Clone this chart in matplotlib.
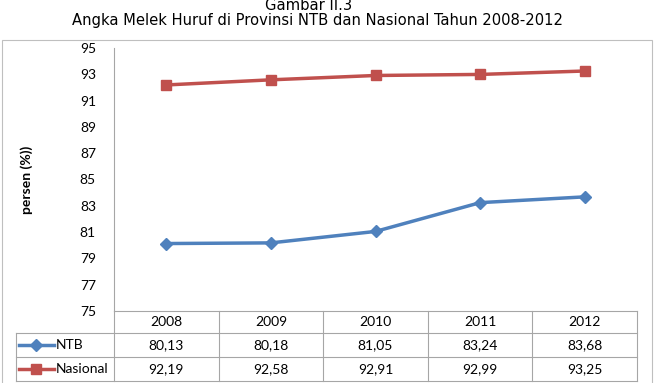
import matplotlib
matplotlib.use("Agg")
import matplotlib.pyplot as plt
from matplotlib.lines import Line2D
from matplotlib.patches import Rectangle

years = ["2008", "2009", "2010", "2011", "2012"]
ntb = [80.13, 80.18, 81.05, 83.24, 83.68]
nasional = [92.19, 92.58, 92.91, 92.99, 93.25]
series_names = ["NTB", "Nasional"]
yticks = [75, 77, 79, 81, 83, 85, 87, 89, 91, 93, 95]

blue = "#4F81BD"
red = "#C0504D"
grid_col = "#A6A6A6"
font = "Lato"
fs = 10

fig = plt.figure(figsize=(6.55, 3.83), dpi=100)
W, H = 655, 383
x0, x1, ytop, ybot = 114, 637, 48, 311
ax = fig.add_axes([x0 / W, 1 - ybot / H, (x1 - x0) / W, (ybot - ytop) / H])

xs = list(range(len(years)))
series = [ntb, nasional]
colors = [blue, red]
markers = ["D", "s"]
msizes = [6.5, 7]
for vals, col, mk, ms in zip(series, colors, markers, msizes):
    ax.plot(xs, vals, color=col, lw=2.5, marker=mk, ms=ms, mfc=col, mec=col, zorder=3)

ax.set_xlim(-0.5, len(years) - 0.5)
ax.set_ylim(75, 95)
ax.set_yticks(yticks)
ax.set_yticklabels([str(v) for v in yticks], fontfamily=font, fontsize=fs)
ax.set_xticks([])
for s in ["top", "right", "bottom"]:
    ax.spines[s].set_visible(False)
ax.spines["left"].set_color(grid_col)
ax.tick_params(axis="y", length=0, pad=13)
ax.set_ylabel("persen (%))", fontfamily=font, fontsize=fs, fontweight="bold", labelpad=34)

# ---- data table (x in data units, y in axes units) ----
trans = ax.get_xaxis_transform()
ax_h = ybot - ytop
col_px = (x1 - x0) / len(years)
lab_w = (x0 - 16) / col_px          # width of row-label column in category units
row_edges_px = [311, 333, 357, 381]
row_edges = [(ybot - p) / ax_h for p in row_edges_px]
xl = -0.5 - lab_w
xr = len(years) - 0.5

def hline(xa, xb, y):
    ax.add_line(Line2D([xa, xb], [y, y], transform=trans, color=grid_col, lw=0.8, clip_on=False))

def vline(x, ya, yb):
    ax.add_line(Line2D([x, x], [ya, yb], transform=trans, color=grid_col, lw=0.8, clip_on=False))

hline(-0.5, xr, row_edges[0])
for y in row_edges[1:]:
    hline(xl, xr, y)
for i in range(len(years) + 1):
    vline(i - 0.5, row_edges[0], row_edges[-1])
vline(xl, row_edges[1], row_edges[-1])

yc_head = (row_edges[0] + row_edges[1]) / 2
for i, yr in enumerate(years):
    ax.text(i, yc_head, yr, transform=trans, ha="center", va="center",
            fontfamily=font, fontsize=fs, clip_on=False)

for r, (name, vals, col, mk) in enumerate(zip(series_names, series, colors, markers)):
    yc = (row_edges[r + 1] + row_edges[r + 2]) / 2
    for i, v in enumerate(vals):
        ax.text(i, yc, f"{v:.2f}".replace(".", ","), transform=trans, ha="center",
                va="center", fontfamily=font, fontsize=fs, clip_on=False)
    ka = xl + 0.03
    kb = xl + 0.36
    ax.add_line(Line2D([ka, kb], [yc, yc], transform=trans, color=col, lw=2.5, clip_on=False))
    ax.add_line(Line2D([(ka + kb) / 2], [yc], transform=trans, color=col, marker=mk,
                       ms=6.5, lw=0, clip_on=False))
    ax.text(kb + 0.02, yc, name, transform=trans, ha="left", va="center",
            fontfamily=font, fontsize=fs, clip_on=False)

# outer border
fig.patches.append(Rectangle((2 / W, -0.05), 650 / W, 1.05 - 40 / H, transform=fig.transFigure,
                             fill=False, edgecolor="#BFBFBF", lw=0.8))

fig.text(309 / W, 1 - 6 / H, "Gambar II.3", ha="center", va="center",
         fontfamily="DejaVu Sans", fontstretch="condensed", fontsize=11.8)
fig.text(317 / W, 1 - 21 / H, "Angka Melek Huruf di Provinsi NTB dan Nasional Tahun 2008-2012",
         ha="center", va="center", fontfamily="DejaVu Sans", fontstretch="condensed", fontsize=11.8)

fig.savefig("out.png", dpi=100)
